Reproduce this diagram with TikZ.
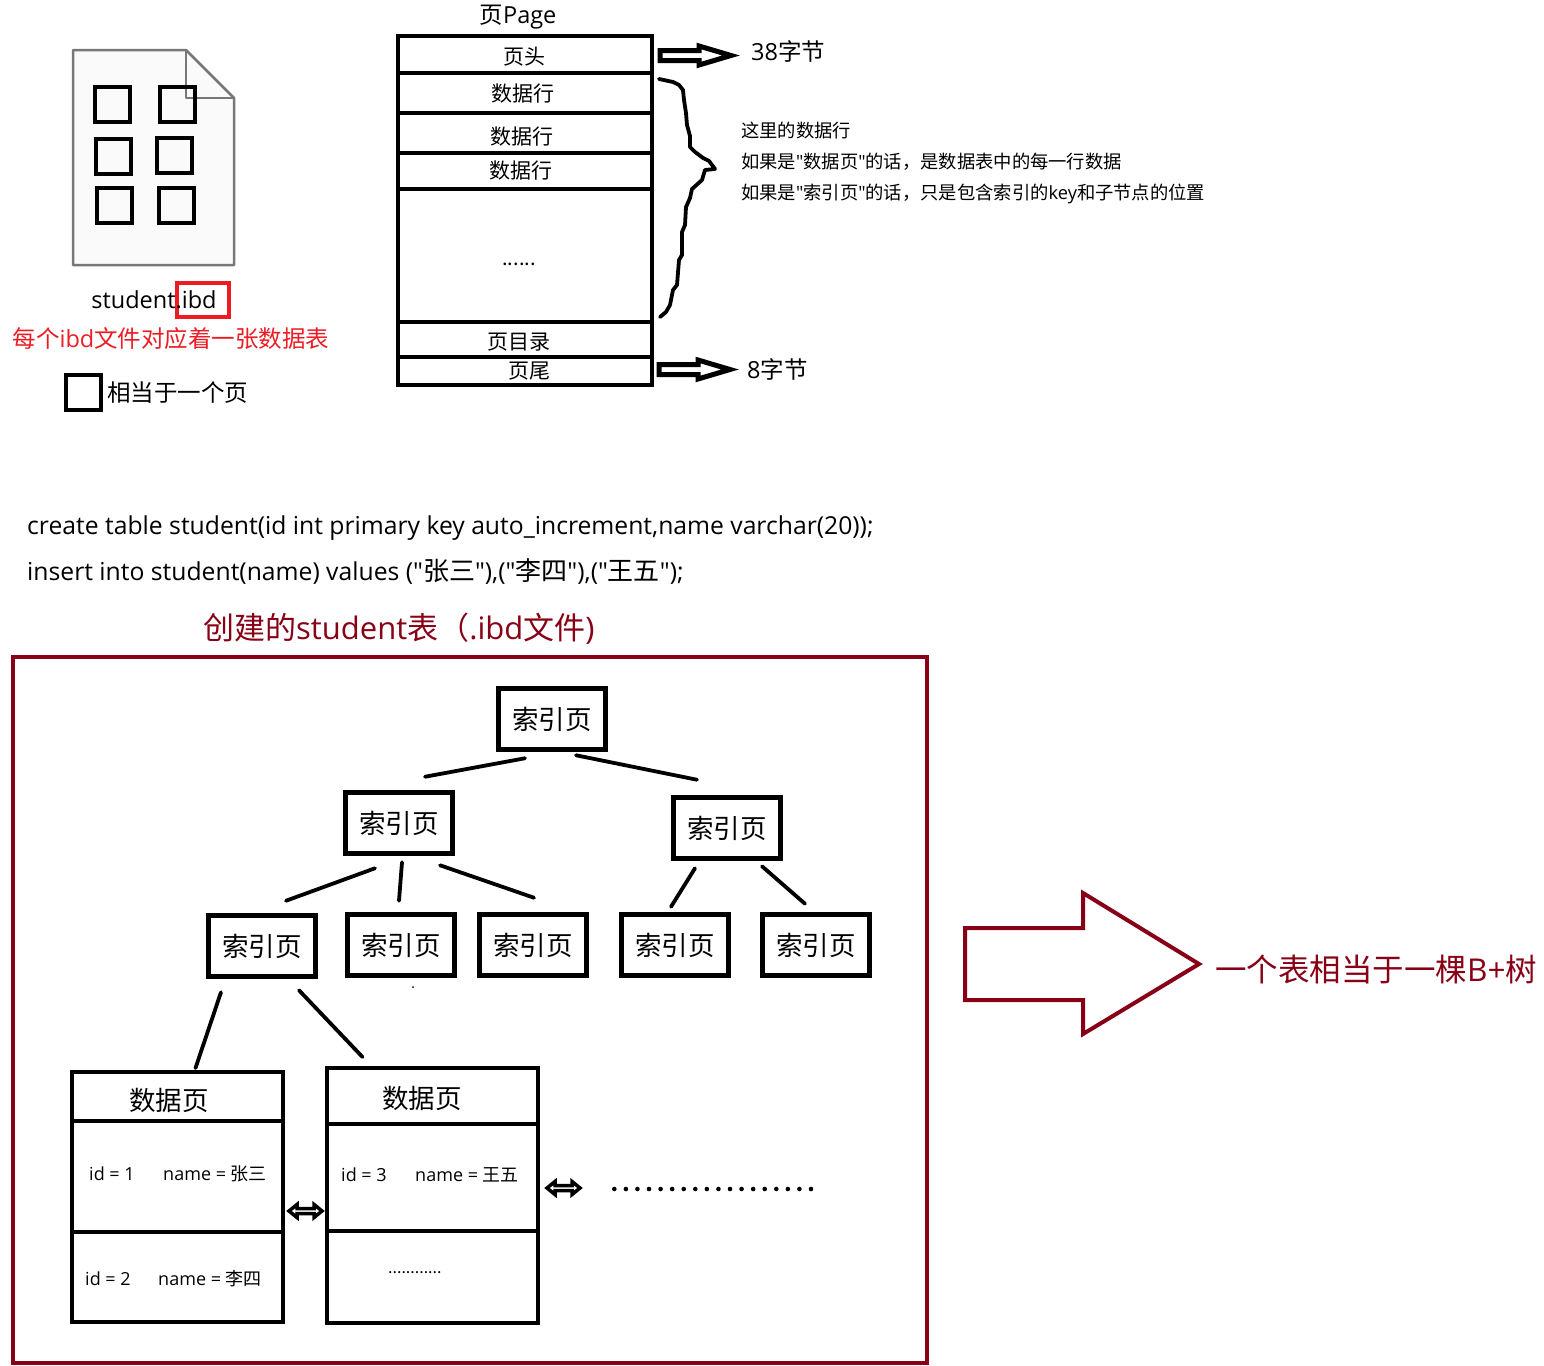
\documentclass[tikz,border=0pt]{standalone}
\usepackage{fontspec}
\setmainfont{Noto Sans CJK SC}
\newfontfamily\latfont{Open Sans}
\newcommand{\lat}[1]{{\latfont #1}}
\newcommand{\wide}[1]{{\fontsize{26}{30}\selectfont #1}}
\usepackage{tikz}
\definecolor{wine}{HTML}{880015}
\definecolor{alarm}{HTML}{ED1C24}
\definecolor{filegray}{HTML}{787878}
\definecolor{filefill}{HTML}{FAFAFA}
\tikzset{
	indexbox/.style={draw, line width=4.6pt, inner sep=0pt, outer sep=0pt, minimum width=106.5pt, minimum height=60.5pt, font=\fontsize{26.5}{30}\selectfont},
	pagerow/.style={draw, line width=4.6pt, inner sep=0pt, outer sep=0pt, minimum width=254pt},
	datacell/.style={draw, line width=4.6pt, inner sep=0pt, outer sep=0pt, minimum width=211pt},
	tile/.style={draw, line width=4.4pt, inner sep=0pt, outer sep=0pt, minimum width=35pt, minimum height=35pt},
	treeline/.style={line width=3.8pt, line cap=round},
	rowtext/.style={inner sep=0pt, font=\fontsize{21}{25}\selectfont},
	midtext/.style={inner sep=0pt, font=\fontsize{23.5}{28}\selectfont},
	notetext/.style={inner sep=0pt, anchor=west, font=\fontsize{18.3}{22}\selectfont},
	celltext/.style={inner sep=0pt, anchor=west, font=\fontsize{18}{22}\selectfont},
	codetext/.style={inner sep=0pt, anchor=west, font=\fontsize{24.7}{30}\selectfont},
	titletext/.style={inner sep=0pt, text=wine, font=\fontsize{31}{38}\selectfont},
	hollow/.style={draw, line width=5pt, line join=miter, fill=white},
	twohead/.style={draw, line width=3.5pt, line join=miter, fill=white},
}

\begin{document}
\begin{tikzpicture}[x=1pt, y=-1pt]
	\useasboundingbox (0,0) rectangle (1544,1365);

	% file icon
	\draw [filegray, fill=filefill, line width=2.5pt, line join=round] (73,50) -- (186,50) -- (234,98) -- (234,265) -- (73,265) -- cycle;
	\draw [filegray, line width=2.5pt, line join=round] (186,50) -- (186,98) -- (234,98);
	\node [tile] (tile1) at (112.5,104.5) {};
	\node [tile] (tile2) at (177.5,104.5) {};
	\node [tile] (tile3) at (113.5,156.5) {};
	\node [tile] (tile4) at (174.5,155.5) {};
	\node [tile] (tile5) at (114.5,205.5) {};
	\node [tile] (tile6) at (176.5,205.5) {};

	\node [draw=alarm, line width=4.6pt, inner sep=0pt, minimum width=52pt, minimum height=34pt] (ibdbox) at (203,300) {};
	\node [midtext] (filename) at (154,300) {\lat{student.ibd}};
	\node [midtext, text=alarm] (filenote) at (171,338.5) {每个\lat{ibd}文件对应着一张数据表};
	\node [tile] (legendbox) at (83.5,392.5) {};
	\node [midtext, anchor=west] (legendtext) at (107,392.5) {相当于一个页};

	% page
	\node [midtext] (pagetitle) at (518,17) {页\lat{Page}};
	\node [pagerow, minimum height=37pt] (rowhead) at (525,54.5) {};
	\node [pagerow, minimum height=40pt] (rowa) at (525,93) {};
	\node [pagerow, minimum height=40pt] (rowb) at (525,133) {};
	\node [pagerow, minimum height=36pt] (rowc) at (525,171) {};
	\node [pagerow, minimum height=133pt] (rowfree) at (525,255.5) {};
	\node [pagerow, minimum height=35pt] (rowdir) at (525,339.5) {};
	\node [pagerow, minimum height=28pt] (rowtail) at (525,371) {};
	\node [rowtext] at (524,56.5) {页头};
	\node [rowtext] at (523,93.5) {数据行};
	\node [rowtext] at (522,136.5) {数据行};
	\node [rowtext] at (521,170.5) {数据行};
	\node [rowtext, font=\fontsize{20}{24}\selectfont] at (519,264) {......};
	\node [rowtext] at (519,342) {页目录};
	\node [rowtext] at (529,371) {页尾};

	\draw [hollow] (660,50.5) -- (699,50.5) -- (699,46) -- (731,55.5) -- (699,65) -- (699,60.5) -- (660,60.5) -- cycle;
	\draw [hollow] (659,364.5) -- (698,364.5) -- (698,360) -- (730,369.5) -- (698,379) -- (698,374.5) -- (659,374.5) -- cycle;
	\node [midtext, anchor=west] (headsize) at (751,51.5) {\lat{38}字节};
	\node [midtext, anchor=west] (tailsize) at (747,369) {\lat{8}字节};

	\draw [line width=3.8pt, line join=round, line cap=round] plot coordinates {(659,79) (673,82) (679,85) (683,90) (684,100) (686,113) (687,125) (690,136) (690,147) (695,152) (703,158) (709,161) (715,169) (705,170) (702,180) (692,189) (690,198) (686,207) (685,225) (682,232) (682,255) (679,260) (677,285) (673,290) (670,305) (666,312) (660,317)};
	\node [notetext] (notea) at (741,131) {这里的数据行};
	\node [notetext] (noteb) at (741,162) {如果是\lat{"}数据页\lat{"}的话，是数据表中的每一行数据};
	\node [notetext] (notec) at (741,194) {如果是\lat{"}索引页\lat{"}的话，只是包含索引的\lat{key}和子节点的位置};

	% sql
	\node [codetext] (sqlcreate) at (27,528) {\lat{create table student(id int primary key auto\_increment,name varchar(20));}};
	\node [codetext] (sqlinsert) at (27,572) {\lat{insert into student(name) values ("}\wide{张三}\lat{"),("}\wide{李四}\lat{"),("}\wide{王五}\lat{");}};

	% table
	\node [titletext, anchor=west] (tabletitle) at (203,629) {创建的\lat{student}表（\lat{.ibd}文件\lat{)}};
	\draw [wine, line width=4.4pt] (13,657) rectangle (927,1363);

	\node [indexbox] (root) at (552,719) {索引页};
	\node [indexbox] (idxa) at (399,823) {索引页};
	\node [indexbox] (idxb) at (727,828) {索引页};
	\node [indexbox] (idxc) at (262,946) {索引页};
	\node [indexbox] (idxd) at (401,945) {索引页};
	\node [indexbox] (idxe) at (533,945) {索引页};
	\node [indexbox] (idxf) at (675,945) {索引页};
	\node [indexbox] (idxg) at (816,945) {索引页};
	\fill (413,987) circle (1);

	\node [datacell, minimum height=49pt] (dataa) at (177.5,1096.5) {};
	\node [datacell, minimum height=111pt] (dataarow) at (177.5,1176.5) {};
	\node [datacell, minimum height=90pt] (dataatail) at (177.5,1277) {};
	\node [datacell, minimum height=56pt] (datab) at (432.5,1096) {};
	\node [datacell, minimum height=107pt] (databrow) at (432.5,1177.5) {};
	\node [datacell, minimum height=92pt] (databtail) at (432.5,1277) {};
	\node [indexbox, draw=none, fill=none] at (169,1100) {数据页};
	\node [indexbox, draw=none, fill=none] at (422,1098) {数据页};
	\node [celltext] at (89,1174) {\lat{id = 1}};
	\node [celltext] at (163,1174) {\lat{name = }张三};
	\node [celltext] at (85,1279) {\lat{id = 2}};
	\node [celltext] at (158,1279) {\lat{name = }李四};
	\node [celltext] at (341,1175) {\lat{id = 3}};
	\node [celltext] at (415,1175) {\lat{name = }王五};
	\node [celltext, font=\fontsize{16}{20}\selectfont] at (388,1273) {............};

	\draw [treeline] ([shift={(-27,9)}]root.south) -- ([shift={(26,-16)}]idxa.north);
	\draw [treeline] ([shift={(24,6)}]root.south) -- ([shift={(-30,-18)}]idxb.north);
	\draw [treeline] ([shift={(-24,15)}]idxa.south) -- ([shift={(24,-15)}]idxc.north);
	\draw [treeline] ([shift={(3,9)}]idxa.south) -- ([shift={(-2,-14)}]idxd.north);
	\draw [treeline] ([shift={(41,12)}]idxa.south) -- ([shift={(1,-17)}]idxe.north);
	\draw [treeline] ([shift={(-32,10)}]idxb.south) -- ([shift={(-4,-8)}]idxf.north);
	\draw [treeline] ([shift={(35,8)}]idxb.south) -- ([shift={(-11,-11)}]idxg.north);
	\draw [treeline] ([shift={(-41,16)}]idxc.south) -- ([shift={(18,-4)}]dataa.north);
	\draw [treeline] ([shift={(37,14)}]idxc.south) -- ([shift={(-70,-11)}]datab.north);

	\draw [twohead] (289,1211) -- (297,1204.5) -- (297,1208.5) -- (314,1208.5) -- (314,1204.5) -- (322,1211) -- (314,1217.5) -- (314,1213.5) -- (297,1213.5) -- (297,1217.5) -- cycle;
	\draw [twohead] (547,1188) -- (555,1181.5) -- (555,1185.5) -- (572,1185.5) -- (572,1181.5) -- (580,1188) -- (572,1194.5) -- (572,1190.5) -- (555,1190.5) -- (555,1194.5) -- cycle;
	\foreach \i in {0,...,17}
		\fill (614.3+11.57*\i,1189) circle (2.3);

	\draw [hollow, draw=wine, line width=4pt] (965,928) -- (1083,928) -- (1083,893) -- (1199,964) -- (1083,1034) -- (1083,1000) -- (965,1000) -- cycle;
	\node [titletext, anchor=west, font=\fontsize{31.5}{38}\selectfont] (bigtext) at (1215,970) {一个表相当于一棵\lat{B+}树};
\end{tikzpicture}
\end{document}
